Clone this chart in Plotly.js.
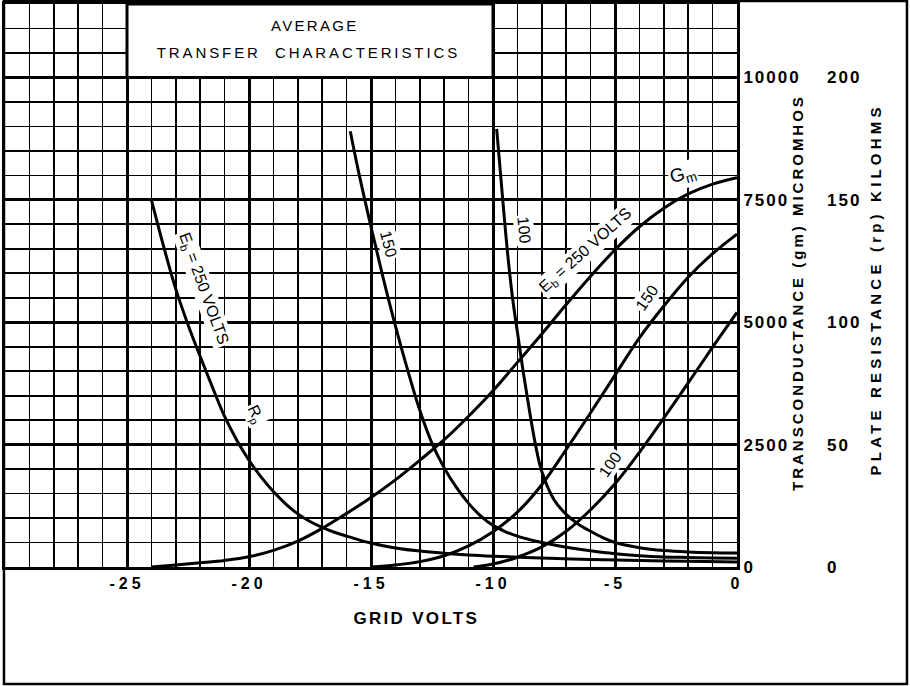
<!DOCTYPE html>
<html>
<head>
<meta charset="utf-8">
<script src="https://cdn.plot.ly/plotly-3.0.1.min.js"></script>
<style>
  html, body { margin: 0; padding: 0; background: #fff; }
  #chart { width: 910px; height: 686px; }
  .xtick text { letter-spacing: 4px; }
  .ytick text, .y2tick text { letter-spacing: 2px; }
</style>
</head>
<body>
<div id="chart"></div>
<script>
// ---------- DATA ----------
// Grid volts (x) and transconductance Gm in micromhos
const gm250Volts = [-24,-23,-22,-21,-20,-19,-18,-17,-16,-15,-14,-13,-12,-11,-10,-9,-8,-7,-6,-5,-4,-3,-2,-1,0];
const gm250      = [0,40,85,135,210,340,530,790,1095,1420,1780,2180,2600,3080,3600,4180,4760,5360,5940,6480,6950,7330,7620,7820,7950];

const gm150Volts = [-15,-14,-13,-12,-11,-10,-9,-8,-7,-6,-5,-4,-3,-2,-1,0];
const gm150      = [0,40,110,230,430,720,1120,1680,2400,3150,3920,4680,5330,5920,6400,6800];

const gm100Volts = [-10.8,-10,-9,-8,-7,-6,-5,-4,-3,-2,-1,0];
const gm100      = [0,60,200,410,730,1170,1700,2340,3040,3760,4490,5200];

// Plate resistance rp in kilohms
const rp250Volts = [-24,-23.5,-23,-22.5,-22,-21.5,-21,-20.5,-20,-19.5,-19,-18.5,-18,-17.5,-17,-16.5,-16,-15.5,-15,-14.5,-14,-13,-12,-11,-10,-8,-6,-4,-2,0];
const rp250      = [150,131,113.5,99,86,73.5,61.5,51.8,43.6,36.7,30.8,25.8,21.7,18.6,16.2,14.2,12.6,11.1,9.8,8.7,7.8,6.5,5.6,4.9,4.4,3.7,3.1,2.7,2.3,2.0];

const rp150Volts = [-15.85,-15.5,-15,-14.5,-14,-13.5,-13,-12.5,-12,-11.5,-11,-10.5,-10,-9.5,-9,-8.5,-8,-7,-6,-5,-4,-3,-2,-1,0];
const rp150      = [178,161,139,118,98.5,80.5,64,50.5,40.5,32.5,26,20.8,17,14.5,12.6,11.2,10,8.1,6.6,5.4,4.6,4.1,3.9,3.7,3.6];

const rp100Volts = [-9.85,-9.6,-9.4,-9.2,-9,-8.75,-8.5,-8.25,-8,-7.5,-7,-6.5,-6,-5.5,-5,-4,-3,-2,-1,0];
const rp100      = [179,150,128,110,96,79,63.5,49.5,39,27.5,21.5,17.5,14.6,12,10,7.9,6.7,6.1,5.8,5.7];

// Tick labels
const xTickVals  = [-25,-20,-15,-10,-5,0];
const xTickText  = ['-25','-20','-15','-10','-5','0'];
const gmTickVals = [0,2500,5000,7500,10000];
const gmTickText = ['0','2500','5000','7500','10000'];
const rpTickVals = [0,50,100,150,200];
const rpTickText = ['0','50','100','150','200'];

// Text
const titleLines = ['AVERAGE','TRANSFER  CHARACTERISTICS'];
const xTitle = 'GRID VOLTS';
const gmTitle = 'TRANSCONDUCTANCE (gm) MICROMHOS';
const rpTitle = 'PLATE RESISTANCE (rp) KILOHMS';

// ---------- CHART ----------
const FONT = '"Liberation Sans", Arial, sans-serif';
const line = {color: '#000', width: 3, shape: 'spline', smoothing: 1};

function tr(x, y, axis) {
  return {x: x, y: y, type: 'scatter', mode: 'lines', line: line, yaxis: axis, hoverinfo: 'skip', showlegend: false};
}

const data = [
  tr(gm250Volts, gm250, 'y'),
  tr(gm150Volts, gm150, 'y'),
  tr(gm100Volts, gm100, 'y'),
  tr(rp250Volts, rp250, 'y2'),
  tr(rp150Volts, rp150, 'y2'),
  tr(rp100Volts, rp100, 'y2')
];

const curveFont = {family: FONT, size: 16, color: '#000'};
function lab(text, x, y, ang, extra) {
  return Object.assign({text: text, x: x, y: y, xref: 'x', yref: 'y', showarrow: false,
    textangle: ang, font: curveFont, bgcolor: '#fff', borderpad: 1}, extra || {});
}

const annotations = [
  // title
  {text: titleLines[0], x: -17.3, y: 11070, xref: 'x', yref: 'y', showarrow: false,
   font: {family: FONT, size: 15, color: '#000'}},
  {text: titleLines[1], x: -17.55, y: 10516, xref: 'x', yref: 'y', showarrow: false,
   font: {family: FONT, size: 15, color: '#000'}},
  // axis titles
  {text: xTitle, x: 0.5615, y: -0.112, xref: 'paper', yref: 'paper', showarrow: false,
   font: {family: FONT, size: 17, color: '#000', weight: 'bold'}},
  {text: gmTitle, x: 1.097, y: 0.4867, xref: 'paper', yref: 'paper', showarrow: false, textangle: -90,
   font: {family: FONT, size: 15, color: '#000', weight: 'bold'}},
  {text: rpTitle, x: 1.2022, y: 0.492, xref: 'paper', yref: 'paper', showarrow: false, textangle: -90,
   font: {family: FONT, size: 15, color: '#000', weight: 'bold'}},
  // curve labels
  lab('E<sub>b</sub> = 250 VOLTS', -21.89, 5680, 70),
  lab('R<sub>p</sub>', -19.75, 3116, 65),
  lab('150', -14.3, 6600, 75),
  lab('100', -8.73, 6870, 84),
  lab('E<sub>b</sub> = 250 VOLTS', -6.19, 6460, -42),
  lab('G<sub>m</sub>', -2.21, 8015, -15, {font: {family: FONT, size: 19, color: '#000'}}),
  lab('150', -3.69, 5515, -55),
  lab('100', -5.2, 2090, -55)
];
const letterSpacing = {0: '2.3px', 1: '2.9px', 2: '2.3px', 3: '3px', 4: '4.2px'};

const layout = {
  width: 910, height: 686,
  margin: {l: 5, r: 173, t: 4, b: 119, pad: 0},
  paper_bgcolor: '#fff', plot_bgcolor: '#fff',
  showlegend: false, hovermode: false,
  xaxis: {
    range: [-30, 0], tickmode: 'array', tickvals: xTickVals, ticktext: xTickText,
    showgrid: true, gridcolor: '#000', gridwidth: 3,
    minor: {tickmode: 'linear', tick0: 0, dtick: 1, showgrid: true, gridcolor: '#000', gridwidth: 1.7, ticklen: 0},
    zeroline: false, showline: true, linecolor: '#000', linewidth: 3, mirror: true,
    ticks: '', tickfont: {family: FONT, size: 16, color: '#000', weight: 'bold'},
    ticklabelstandoff: 0, fixedrange: true
  },
  yaxis: {
    range: [0, 11500], side: 'right', tickmode: 'array', tickvals: gmTickVals, ticktext: gmTickText,
    showgrid: true, gridcolor: '#000', gridwidth: 3,
    minor: {tickmode: 'linear', tick0: 0, dtick: 500, showgrid: true, gridcolor: '#000', gridwidth: 1.7, ticklen: 0},
    zeroline: false, showline: true, linecolor: '#000', linewidth: 3, mirror: true,
    ticks: '', tickfont: {family: FONT, size: 17, color: '#000', weight: 'bold'},
    ticklabelstandoff: 0, fixedrange: true
  },
  yaxis2: {
    range: [0, 230], overlaying: 'y', side: 'right', anchor: 'x',
    tickmode: 'array', tickvals: rpTickVals, ticktext: rpTickText,
    showgrid: false, zeroline: false, showline: false, ticks: '',
    tickfont: {family: FONT, size: 17, color: '#000', weight: 'bold'},
    ticklabelstandoff: 89, fixedrange: true
  },
  shapes: [
    // title panel
    {type: 'rect', xref: 'x', yref: 'y', x0: -25, x1: -10, y0: 10000, y1: 11500,
     fillcolor: '#fff', line: {color: '#000', width: 3}, layer: 'above'},
    // outer frame
    {type: 'rect', xref: 'paper', yref: 'paper', x0: -0.0014, x1: 1.2322, y0: -0.2078, y1: 1.0053,
     fillcolor: 'rgba(0,0,0,0)', line: {color: '#000', width: 2.5}, layer: 'above'}
  ],
  annotations: annotations
};

Plotly.newPlot('chart', data, layout, {displayModeBar: false, staticPlot: true}).then(function () {
  document.querySelectorAll('.annotation').forEach(function (g) {
    const i = g.getAttribute('data-index');
    if (letterSpacing[i]) {
      g.querySelectorAll('text').forEach(function (t) { t.style.letterSpacing = letterSpacing[i]; });
    }
  });
});
</script>
</body>
</html>
